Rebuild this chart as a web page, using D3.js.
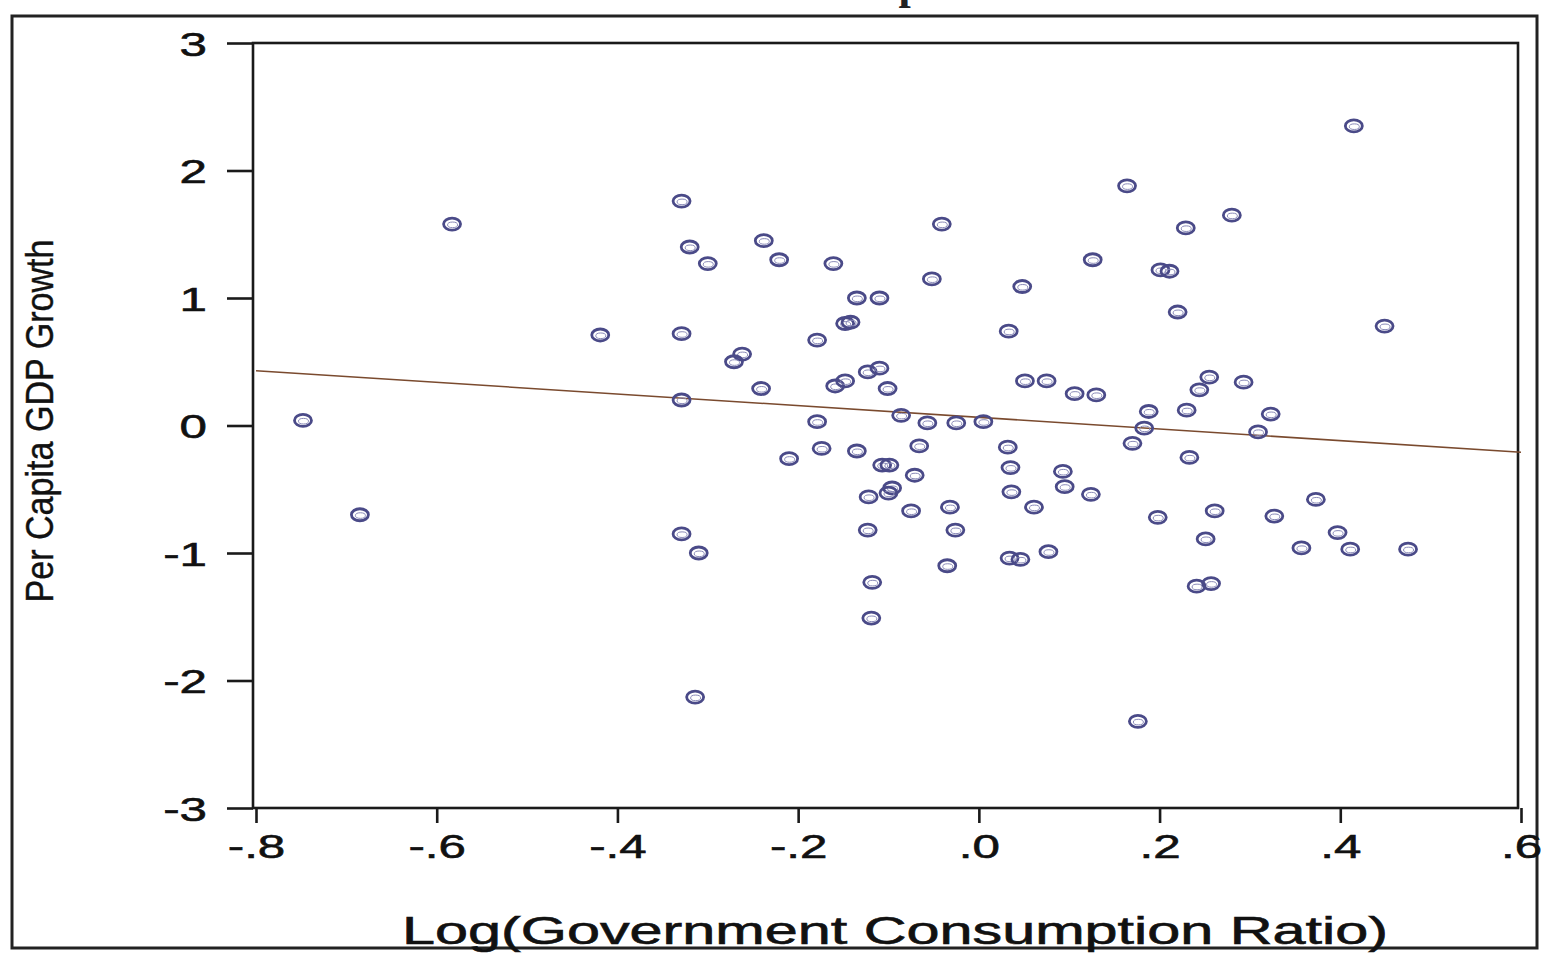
<!DOCTYPE html>
<html>
<head>
<meta charset="utf-8">
<script src="https://cdn.jsdelivr.net/npm/d3@7/dist/d3.min.js"></script>
<style>
  body { margin: 0; background: #fff; }
  svg { display: block; }
</style>
</head>
<body>
<svg id="chart" width="1541" height="954"></svg>
<script>
// log of government consumption ratio (x) and per capita GDP growth (y)
const govLog = [
  -0.748, -0.685, -0.583, -0.419, -0.329, -0.320, -0.300, -0.329, -0.329, -0.329,
  -0.310, -0.314, -0.238, -0.221, -0.262, -0.271, -0.241, -0.210, -0.161, -0.179,
  -0.135, -0.110, -0.148, -0.142, -0.159, -0.148, -0.123, -0.110, -0.101, -0.179,
  -0.174, -0.135, -0.107, -0.099, -0.096, -0.100, -0.122, -0.123, -0.118, -0.119,
  -0.086, -0.057, -0.066, -0.071, -0.075, -0.041, -0.052, -0.025, 0.005, -0.032,
  -0.026, -0.035, 0.033, 0.048, 0.051, 0.075, 0.032, 0.035, 0.036, 0.061,
  0.034, 0.046, 0.077, 0.093, 0.095, 0.106, 0.130, 0.124, 0.126, 0.164,
  0.170, 0.183, 0.188, 0.176, 0.201, 0.211, 0.229, 0.220, 0.230, 0.233,
  0.198, 0.244, 0.255, 0.280, 0.293, 0.309, 0.323, 0.261, 0.251, 0.241,
  0.257, 0.327, 0.373, 0.357, 0.397, 0.411, 0.475, 0.415, 0.449
];
const gdpGrowth = [
  0.04, -0.70, 1.58, 0.71, 1.76, 1.40, 1.27, 0.72, 0.20, -0.85,
  -1.00, -2.13, 1.45, 1.30, 0.56, 0.50, 0.29, -0.26, 1.27, 0.67,
  1.00, 1.00, 0.80, 0.81, 0.31, 0.35, 0.42, 0.45, 0.29, 0.03,
  -0.18, -0.20, -0.31, -0.31, -0.49, -0.53, -0.56, -0.82, -1.23, -1.51,
  0.08, 0.02, -0.16, -0.39, -0.67, 1.58, 1.15, 0.02, 0.03, -0.64,
  -0.82, -1.10, 0.74, 1.09, 0.35, 0.35, -0.17, -0.33, -0.52, -0.64,
  -1.04, -1.05, -0.99, -0.36, -0.48, 0.25, 0.24, -0.54, 1.30, 1.88,
  -0.14, -0.02, 0.11, -2.32, 1.22, 1.21, 1.55, 0.89, 0.12, -0.25,
  -0.72, 0.28, 0.38, 1.65, 0.34, -0.05, 0.09, -0.67, -0.89, -1.26,
  -1.24, -0.71, -0.58, -0.96, -0.84, -0.97, -0.97, 2.35, 0.78
];

// fitted regression line, read at the two ends of the x axis
const fitX = [-0.8, 0.6];
const fitY = [0.43, -0.21];

const xTicks = [-0.8, -0.6, -0.4, -0.2, 0, 0.2, 0.4, 0.6];
const xTickLabels = ["-.8", "-.6", "-.4", "-.2", ".0", ".2", ".4", ".6"];
const yTicks = [3, 2, 1, 0, -1, -2, -3];
const yTickLabels = ["3", "2", "1", "0", "-1", "-2", "-3"];

const svg = d3.select("#chart");
const font = "Liberation Sans, Arial, sans-serif";
const stretch = 1.45; // the scan is wider than tall

svg.append("rect")
  .attr("width", 1541)
  .attr("height", 954)
  .attr("fill", "#fff");

// title, almost all of it is above the picture
svg.append("text")
  .attr("x", 494)
  .attr("y", -1)
  .attr("font-family", "Liberation Serif, serif")
  .attr("font-weight", "bold")
  .attr("font-size", "44px")
  .attr("fill", "#222")
  .text("Government Consumption and Growth");

// outer frame
svg.append("rect")
  .attr("x", 12)
  .attr("y", 16)
  .attr("width", 1525)
  .attr("height", 932)
  .attr("fill", "none")
  .attr("stroke", "#222")
  .attr("stroke-width", 3);

const x = d3.scaleLinear().domain([-0.8, 0.6]).range([256, 1521]);
const y = d3.scaleLinear().domain([-3, 3]).range([808, 43]);

// plot frame
svg.append("rect")
  .attr("x", x.range()[0] - 3)
  .attr("y", y.range()[1])
  .attr("width", x.range()[1] - x.range()[0])
  .attr("height", y.range()[0] - y.range()[1])
  .attr("fill", "none")
  .attr("stroke", "#1a1a1a")
  .attr("stroke-width", 2.6);

const yAxis = svg.append("g")
  .attr("transform", `translate(${x.range()[0] - 3},0)`)
  .call(d3.axisLeft(y)
    .tickValues(yTicks)
    .tickFormat((d, i) => yTickLabels[i])
    .tickSize(26)
    .tickSizeOuter(0));

const xAxis = svg.append("g")
  .attr("transform", `translate(0,${y.range()[0]})`)
  .call(d3.axisBottom(x)
    .tickValues(xTicks)
    .tickFormat((d, i) => xTickLabels[i])
    .tickSize(15)
    .tickSizeOuter(0));

[yAxis, xAxis].forEach(g => {
  g.select(".domain").remove();
  g.selectAll(".tick line").attr("stroke", "#1a1a1a").attr("stroke-width", 2.6);
  g.selectAll("text")
    .attr("font-family", font)
    .attr("font-size", "34px")
    .attr("fill", "#111")
    .attr("stroke", "#111")
    .attr("stroke-width", 0.6);
});

yAxis.selectAll("text")
  .attr("x", 0)
  .attr("dy", "0.36em")
  .attr("text-anchor", "end")
  .attr("transform", `translate(-46,0) scale(${stretch},1)`);

xAxis.selectAll("text")
  .attr("y", 0)
  .attr("dy", null)
  .attr("text-anchor", "middle")
  .attr("transform", `translate(0,50) scale(${stretch},1)`);

// regression line
svg.append("path")
  .datum(fitX.map((d, i) => [d, fitY[i]]))
  .attr("d", d3.line().x(d => x(d[0])).y(d => y(d[1])))
  .attr("fill", "none")
  .attr("stroke", "#7a4a2e")
  .attr("stroke-width", 1.6);

// points
const pts = govLog.map((d, i) => ({ gx: d, gy: gdpGrowth[i] }));

const dots = svg.append("g")
  .selectAll("g")
  .data(pts)
  .join("g")
  .attr("transform", d => `translate(${x(d.gx)},${y(d.gy)})`);

dots.append("ellipse")
  .attr("rx", 8.5)
  .attr("ry", 6)
  .attr("fill", "none")
  .attr("stroke", "#4a4a88")
  .attr("stroke-width", 2.8);

dots.append("ellipse")
  .attr("cx", 0.5)
  .attr("cy", 0.8)
  .attr("rx", 5)
  .attr("ry", 2.8)
  .attr("fill", "none")
  .attr("stroke", "#8a8ab8")
  .attr("stroke-width", 1);

// axis titles
svg.append("text")
  .attr("x", 402)
  .attr("y", 944)
  .attr("font-family", font)
  .attr("font-size", "38px")
  .attr("fill", "#111")
  .attr("stroke", "#111")
  .attr("stroke-width", 0.6)
  .attr("textLength", 986)
  .attr("lengthAdjust", "spacingAndGlyphs")
  .text("Log(Government Consumption Ratio)");

svg.append("text")
  .attr("transform", "translate(53,421) rotate(-90)")
  .attr("text-anchor", "middle")
  .attr("font-family", font)
  .attr("font-size", "39px")
  .attr("fill", "#111")
  .attr("stroke", "#111")
  .attr("stroke-width", 0.4)
  .attr("textLength", 363)
  .attr("lengthAdjust", "spacingAndGlyphs")
  .text("Per Capita GDP Growth");
</script>
</body>
</html>
